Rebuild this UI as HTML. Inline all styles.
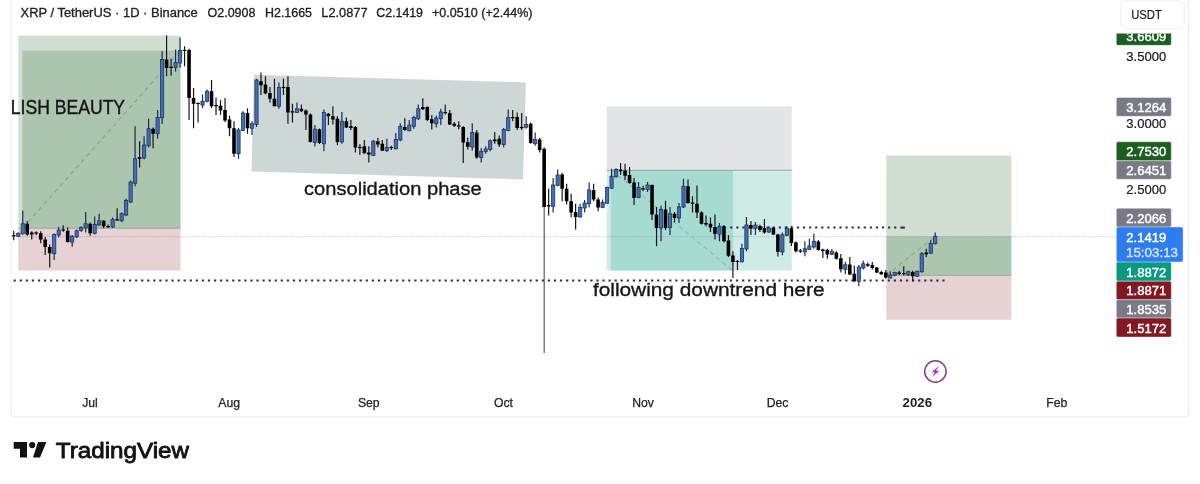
<!DOCTYPE html>
<html lang="en"><head><meta charset="utf-8"><title>XRP / TetherUS chart</title>
<style>html,body{margin:0;padding:0;background:#fff}body{width:1200px;height:484px;overflow:hidden}svg{display:block;filter:blur(.45px)}text{font-family:"Liberation Sans",sans-serif}</style>
</head><body>
<svg width="1200" height="484" viewBox="0 0 1200 484">
<rect width="1200" height="484" fill="#fff"/>
<g stroke="#eeeef0" stroke-width="1.1" fill="none">
<path d="M11.2 0V413.7Q11.2 416.7 14.2 416.7H1185.6Q1188.6 416.7 1188.6 413.7V0"/>
</g>
<line x1="11.5" y1="236.7" x2="1116" y2="236.7" stroke="#c3cde0" stroke-width="1" stroke-dasharray="1.2 1"/>
<rect x="18.3" y="35.6" width="162.2" height="192.6" fill="#1b5e20" fill-opacity=".2"/>
<rect x="22.4" y="50.6" width="158.1" height="177.6" fill="#1b5e20" fill-opacity=".2"/>
<rect x="18.3" y="228.2" width="162.2" height="42.3" fill="#801922" fill-opacity=".2"/>
<line x1="18.3" y1="228.2" x2="180.5" y2="228.2" stroke="#9aa89c" stroke-width="1"/>
<line x1="22.7" y1="228.2" x2="180.5" y2="50.6" stroke="#91a594" stroke-width="1.2" stroke-dasharray="4.5 3.5"/>
<polygon points="254,74.8 525.8,82.4 523,179.4 251.6,171.5" fill="#cdd7d5"/>
<rect x="606.8" y="106.3" width="185" height="63.7" fill="#787b86" fill-opacity=".2"/>
<rect x="606.8" y="170" width="185" height="100.6" fill="#089981" fill-opacity=".2"/>
<rect x="610.8" y="170" width="122.2" height="100.6" fill="#089981" fill-opacity=".2"/>
<line x1="606.8" y1="170.2" x2="791.8" y2="170.2" stroke="#93a8a5" stroke-width="1.1"/>
<line x1="611.5" y1="170" x2="732.5" y2="270.6" stroke="#96bab3" stroke-width="1.2" stroke-dasharray="4.5 3.5"/>
<rect x="886.3" y="155.5" width="125" height="119.8" fill="#1b5e20" fill-opacity=".2"/>
<rect x="886.3" y="236.4" width="125" height="38.9" fill="#1b5e20" fill-opacity=".2"/>
<rect x="886.3" y="275.3" width="125" height="44.5" fill="#801922" fill-opacity=".2"/>
<line x1="886.3" y1="275.3" x2="1011.3" y2="275.3" stroke="#9aa89c" stroke-width="1"/>
<line x1="886.3" y1="275.3" x2="935.2" y2="236.5" stroke="#91a594" stroke-width="1.2" stroke-dasharray="4.5 3.5"/>
<g stroke="#283150" stroke-width="2" stroke-dasharray="2.2 3.87">
<line x1="730.15" y1="227.6" x2="900" y2="227.6"/>
<line x1="13.65" y1="280.6" x2="945" y2="280.6"/>
</g>
<line x1="900.4" y1="227.6" x2="904.8" y2="227.6" stroke="#262f4b" stroke-width="2.1"/>
<g id="candles">
<path d="M13.75 230.8V240.3" stroke="#161616" stroke-width="1.2"/>
<rect x="11.95" y="235.2" width="3.6" height="1.2" fill="#000"/>
<path d="M18.25 232.5V237" stroke="#1d2b4a" stroke-width="1.2"/>
<rect x="16.64" y="233.25" width="3.2" height="3" fill="#4070b5" stroke="#1f3560" stroke-width=".8"/>
<path d="M22.74 210.75V234.5" stroke="#1d2b4a" stroke-width="1.2"/>
<rect x="21.14" y="223.75" width="3.2" height="10" fill="#4070b5" stroke="#1f3560" stroke-width=".8"/>
<path d="M27.23 221.25V235.75" stroke="#161616" stroke-width="1.2"/>
<rect x="25.43" y="223.75" width="3.6" height="10.75" fill="#000"/>
<path d="M31.73 231.25V239.5" stroke="#161616" stroke-width="1.2"/>
<rect x="29.93" y="232.5" width="3.6" height="2" fill="#000"/>
<path d="M36.23 231.25V235" stroke="#161616" stroke-width="1.2"/>
<rect x="34.42" y="232.4" width="3.6" height="1.2" fill="#000"/>
<path d="M40.72 231.25V243.25" stroke="#161616" stroke-width="1.2"/>
<rect x="38.92" y="233.25" width="3.6" height="6.25" fill="#000"/>
<path d="M45.22 237V255" stroke="#161616" stroke-width="1.2"/>
<rect x="43.41" y="239.5" width="3.6" height="7.5" fill="#000"/>
<path d="M49.71 244.5V267.5" stroke="#161616" stroke-width="1.2"/>
<rect x="47.91" y="247" width="3.6" height="6.25" fill="#000"/>
<path d="M54.2 233.25V260" stroke="#1d2b4a" stroke-width="1.2"/>
<rect x="52.6" y="234.5" width="3.2" height="19.25" fill="#4070b5" stroke="#1f3560" stroke-width=".8"/>
<path d="M58.7 227V237.5" stroke="#1d2b4a" stroke-width="1.2"/>
<rect x="57.1" y="230" width="3.2" height="5" fill="#4070b5" stroke="#1f3560" stroke-width=".8"/>
<path d="M63.2 225.3V231.7" stroke="#161616" stroke-width="1.2"/>
<rect x="61.39" y="229.4" width="3.6" height="1.2" fill="#000"/>
<path d="M67.69 227.5V242.5" stroke="#161616" stroke-width="1.2"/>
<rect x="65.89" y="230.75" width="3.6" height="11.25" fill="#000"/>
<path d="M72.19 235V246.75" stroke="#1d2b4a" stroke-width="1.2"/>
<rect x="70.59" y="236.25" width="3.2" height="5.75" fill="#4070b5" stroke="#1f3560" stroke-width=".8"/>
<path d="M76.68 229.5V238" stroke="#1d2b4a" stroke-width="1.2"/>
<rect x="75.08" y="230.75" width="3.2" height="6" fill="#4070b5" stroke="#1f3560" stroke-width=".8"/>
<path d="M81.17 226.25V231.75" stroke="#1d2b4a" stroke-width="1.2"/>
<rect x="79.58" y="227.5" width="3.2" height="3" fill="#4070b5" stroke="#1f3560" stroke-width=".8"/>
<path d="M85.67 212V232.5" stroke="#1d2b4a" stroke-width="1.2"/>
<rect x="84.07" y="223.75" width="3.2" height="4.25" fill="#4070b5" stroke="#1f3560" stroke-width=".8"/>
<path d="M90.17 222.5V235.75" stroke="#161616" stroke-width="1.2"/>
<rect x="88.37" y="223.75" width="3.6" height="9.5" fill="#000"/>
<path d="M94.66 216.5V234.5" stroke="#1d2b4a" stroke-width="1.2"/>
<rect x="93.06" y="224.5" width="3.2" height="8.75" fill="#4070b5" stroke="#1f3560" stroke-width=".8"/>
<path d="M99.16 213.75V225.75" stroke="#1d2b4a" stroke-width="1.2"/>
<rect x="97.56" y="220.75" width="3.2" height="4.25" fill="#4070b5" stroke="#1f3560" stroke-width=".8"/>
<path d="M103.65 220V228.25" stroke="#161616" stroke-width="1.2"/>
<rect x="101.85" y="220.75" width="3.6" height="5.5" fill="#000"/>
<path d="M108.14 224.5V228" stroke="#161616" stroke-width="1.2"/>
<rect x="106.34" y="226.03" width="3.6" height="1.2" fill="#000"/>
<path d="M112.64 217.5V228" stroke="#1d2b4a" stroke-width="1.2"/>
<rect x="111.04" y="219.5" width="3.2" height="7.5" fill="#4070b5" stroke="#1f3560" stroke-width=".8"/>
<path d="M117.14 208.25V220.75" stroke="#161616" stroke-width="1.2"/>
<rect x="115.34" y="219.28" width="3.6" height="1.2" fill="#000"/>
<path d="M121.63 212.5V222" stroke="#1d2b4a" stroke-width="1.2"/>
<rect x="120.03" y="213.75" width="3.2" height="7" fill="#4070b5" stroke="#1f3560" stroke-width=".8"/>
<path d="M126.12 198.75V216.25" stroke="#1d2b4a" stroke-width="1.2"/>
<rect x="124.53" y="200.5" width="3.2" height="14.5" fill="#4070b5" stroke="#1f3560" stroke-width=".8"/>
<path d="M130.62 180.5V203" stroke="#1d2b4a" stroke-width="1.2"/>
<rect x="129.02" y="182" width="3.2" height="20" fill="#4070b5" stroke="#1f3560" stroke-width=".8"/>
<path d="M135.12 126.25V186.25" stroke="#1d2b4a" stroke-width="1.2"/>
<rect x="133.52" y="158.75" width="3.2" height="24.5" fill="#4070b5" stroke="#1f3560" stroke-width=".8"/>
<path d="M139.61 141.25V167.5" stroke="#161616" stroke-width="1.2"/>
<rect x="137.81" y="157" width="3.6" height="1.75" fill="#000"/>
<path d="M144.1 136.25V159.25" stroke="#1d2b4a" stroke-width="1.2"/>
<rect x="142.5" y="145" width="3.2" height="13" fill="#4070b5" stroke="#1f3560" stroke-width=".8"/>
<path d="M148.6 118.75V147.5" stroke="#1d2b4a" stroke-width="1.2"/>
<rect x="147" y="128.75" width="3.2" height="17" fill="#4070b5" stroke="#1f3560" stroke-width=".8"/>
<path d="M153.09 127.5V148.25" stroke="#161616" stroke-width="1.2"/>
<rect x="151.3" y="128.75" width="3.6" height="5" fill="#000"/>
<path d="M157.59 110V138.75" stroke="#1d2b4a" stroke-width="1.2"/>
<rect x="155.99" y="117.5" width="3.2" height="16.25" fill="#4070b5" stroke="#1f3560" stroke-width=".8"/>
<path d="M162.09 51.25V124" stroke="#1d2b4a" stroke-width="1.2"/>
<rect x="160.49" y="59.5" width="3.2" height="58.25" fill="#4070b5" stroke="#1f3560" stroke-width=".8"/>
<path d="M166.58 35.5V76.25" stroke="#161616" stroke-width="1.2"/>
<rect x="164.78" y="59.5" width="3.6" height="8.5" fill="#000"/>
<path d="M171.08 58.75V75.75" stroke="#161616" stroke-width="1.2"/>
<rect x="169.28" y="66.75" width="3.6" height="1.25" fill="#000"/>
<path d="M175.57 49.5V71.5" stroke="#1d2b4a" stroke-width="1.2"/>
<rect x="173.97" y="62.5" width="3.2" height="5" fill="#4070b5" stroke="#1f3560" stroke-width=".8"/>
<path d="M180.06 37.5V67.5" stroke="#1d2b4a" stroke-width="1.2"/>
<rect x="178.47" y="50.5" width="3.2" height="12.5" fill="#4070b5" stroke="#1f3560" stroke-width=".8"/>
<path d="M184.56 46.25V66.25" stroke="#161616" stroke-width="1.2"/>
<rect x="182.76" y="49.8" width="3.6" height="1.2" fill="#000"/>
<path d="M189.06 48.75V120" stroke="#161616" stroke-width="1.2"/>
<rect x="187.26" y="50" width="3.6" height="48" fill="#000"/>
<path d="M193.55 88V128.25" stroke="#161616" stroke-width="1.2"/>
<rect x="191.75" y="98" width="3.6" height="5.75" fill="#000"/>
<path d="M198.05 102.5V122.5" stroke="#161616" stroke-width="1.2"/>
<rect x="196.25" y="102.9" width="3.6" height="1.2" fill="#000"/>
<path d="M202.54 94.5V108" stroke="#1d2b4a" stroke-width="1.2"/>
<rect x="200.94" y="101.25" width="3.2" height="3.75" fill="#4070b5" stroke="#1f3560" stroke-width=".8"/>
<path d="M207.03 89.5V102.5" stroke="#1d2b4a" stroke-width="1.2"/>
<rect x="205.44" y="91.25" width="3.2" height="10" fill="#4070b5" stroke="#1f3560" stroke-width=".8"/>
<path d="M211.53 80V108" stroke="#161616" stroke-width="1.2"/>
<rect x="209.73" y="91.25" width="3.6" height="15" fill="#000"/>
<path d="M216.03 97.5V115" stroke="#161616" stroke-width="1.2"/>
<rect x="214.23" y="105" width="3.6" height="1.25" fill="#000"/>
<path d="M220.52 100V115" stroke="#161616" stroke-width="1.2"/>
<rect x="218.72" y="105.75" width="3.6" height="4.75" fill="#000"/>
<path d="M225.02 98V122" stroke="#161616" stroke-width="1.2"/>
<rect x="223.22" y="110" width="3.6" height="10.5" fill="#000"/>
<path d="M229.51 115.75V136.25" stroke="#161616" stroke-width="1.2"/>
<rect x="227.71" y="119.5" width="3.6" height="8.75" fill="#000"/>
<path d="M234 121.25V157" stroke="#161616" stroke-width="1.2"/>
<rect x="232.21" y="128.25" width="3.6" height="25.5" fill="#000"/>
<path d="M238.5 128V158.75" stroke="#1d2b4a" stroke-width="1.2"/>
<rect x="236.9" y="130" width="3.2" height="23.75" fill="#4070b5" stroke="#1f3560" stroke-width=".8"/>
<path d="M243 111.25V131.25" stroke="#1d2b4a" stroke-width="1.2"/>
<rect x="241.4" y="113" width="3.2" height="17.5" fill="#4070b5" stroke="#1f3560" stroke-width=".8"/>
<path d="M247.49 108.25V133.75" stroke="#161616" stroke-width="1.2"/>
<rect x="245.69" y="113" width="3.6" height="15.25" fill="#000"/>
<path d="M251.99 121.25V135" stroke="#1d2b4a" stroke-width="1.2"/>
<rect x="250.39" y="123.75" width="3.2" height="4.5" fill="#4070b5" stroke="#1f3560" stroke-width=".8"/>
<path d="M256.48 78.75V127" stroke="#1d2b4a" stroke-width="1.2"/>
<rect x="254.88" y="80" width="3.2" height="44.5" fill="#4070b5" stroke="#1f3560" stroke-width=".8"/>
<path d="M260.98 72.5V95" stroke="#161616" stroke-width="1.2"/>
<rect x="259.18" y="81.25" width="3.6" height="4.05" fill="#000"/>
<path d="M265.47 76.25V94.5" stroke="#161616" stroke-width="1.2"/>
<rect x="263.67" y="84.5" width="3.6" height="8.75" fill="#000"/>
<path d="M269.97 87V102.5" stroke="#161616" stroke-width="1.2"/>
<rect x="268.17" y="93" width="3.6" height="5.75" fill="#000"/>
<path d="M274.46 78.75V106.25" stroke="#161616" stroke-width="1.2"/>
<rect x="272.66" y="98.75" width="3.6" height="7.5" fill="#000"/>
<path d="M278.95 82.5V108.75" stroke="#1d2b4a" stroke-width="1.2"/>
<rect x="277.35" y="87.5" width="3.2" height="18.75" fill="#4070b5" stroke="#1f3560" stroke-width=".8"/>
<path d="M283.45 78.75V95" stroke="#161616" stroke-width="1.2"/>
<rect x="281.65" y="86.9" width="3.6" height="1.2" fill="#000"/>
<path d="M287.94 76.25V123.75" stroke="#161616" stroke-width="1.2"/>
<rect x="286.14" y="87" width="3.6" height="25.5" fill="#000"/>
<path d="M292.44 103.75V122.5" stroke="#161616" stroke-width="1.2"/>
<rect x="290.64" y="111.25" width="3.6" height="1.25" fill="#000"/>
<path d="M296.94 102.5V113" stroke="#1d2b4a" stroke-width="1.2"/>
<rect x="295.33" y="108.75" width="3.2" height="3.75" fill="#4070b5" stroke="#1f3560" stroke-width=".8"/>
<path d="M301.43 104.5V112" stroke="#161616" stroke-width="1.2"/>
<rect x="299.63" y="108.75" width="3.6" height="2.5" fill="#000"/>
<path d="M305.93 109.5V130" stroke="#161616" stroke-width="1.2"/>
<rect x="304.12" y="110.5" width="3.6" height="4" fill="#000"/>
<path d="M310.42 113.5V142.5" stroke="#161616" stroke-width="1.2"/>
<rect x="308.62" y="114.5" width="3.6" height="27.5" fill="#000"/>
<path d="M314.92 125V146.5" stroke="#1d2b4a" stroke-width="1.2"/>
<rect x="313.31" y="129.2" width="3.2" height="13.3" fill="#4070b5" stroke="#1f3560" stroke-width=".8"/>
<path d="M319.41 128.5V144" stroke="#161616" stroke-width="1.2"/>
<rect x="317.61" y="129.25" width="3.6" height="13.75" fill="#000"/>
<path d="M323.91 109.5V151.25" stroke="#1d2b4a" stroke-width="1.2"/>
<rect x="322.31" y="112.5" width="3.2" height="31.25" fill="#4070b5" stroke="#1f3560" stroke-width=".8"/>
<path d="M328.4 113V125" stroke="#161616" stroke-width="1.2"/>
<rect x="326.6" y="113.75" width="3.6" height="2.5" fill="#000"/>
<path d="M332.89 106.25V124.5" stroke="#161616" stroke-width="1.2"/>
<rect x="331.09" y="116.25" width="3.6" height="3.25" fill="#000"/>
<path d="M337.39 116.25V145" stroke="#161616" stroke-width="1.2"/>
<rect x="335.59" y="118.75" width="3.6" height="23.25" fill="#000"/>
<path d="M341.88 112V143.75" stroke="#1d2b4a" stroke-width="1.2"/>
<rect x="340.28" y="121.25" width="3.2" height="20.75" fill="#4070b5" stroke="#1f3560" stroke-width=".8"/>
<path d="M346.38 117.5V128" stroke="#161616" stroke-width="1.2"/>
<rect x="344.58" y="121.25" width="3.6" height="6.25" fill="#000"/>
<path d="M350.88 120V130" stroke="#161616" stroke-width="1.2"/>
<rect x="349.07" y="126.25" width="3.6" height="1.75" fill="#000"/>
<path d="M355.37 126V152.5" stroke="#161616" stroke-width="1.2"/>
<rect x="353.57" y="127" width="3.6" height="20.5" fill="#000"/>
<path d="M359.87 144V155" stroke="#161616" stroke-width="1.2"/>
<rect x="358.06" y="146.9" width="3.6" height="1.2" fill="#000"/>
<path d="M364.36 140V153.75" stroke="#161616" stroke-width="1.2"/>
<rect x="362.56" y="146.25" width="3.6" height="7" fill="#000"/>
<path d="M368.86 146.25V162.5" stroke="#161616" stroke-width="1.2"/>
<rect x="367.06" y="152.5" width="3.6" height="2" fill="#000"/>
<path d="M373.35 140V156" stroke="#1d2b4a" stroke-width="1.2"/>
<rect x="371.75" y="141.25" width="3.2" height="14.25" fill="#4070b5" stroke="#1f3560" stroke-width=".8"/>
<path d="M377.85 138V147.5" stroke="#161616" stroke-width="1.2"/>
<rect x="376.05" y="141.25" width="3.6" height="3.25" fill="#000"/>
<path d="M382.34 140V151" stroke="#161616" stroke-width="1.2"/>
<rect x="380.54" y="143.75" width="3.6" height="7" fill="#000"/>
<path d="M386.84 138.75V152" stroke="#1d2b4a" stroke-width="1.2"/>
<rect x="385.24" y="147.5" width="3.2" height="3" fill="#4070b5" stroke="#1f3560" stroke-width=".8"/>
<path d="M391.33 145.75V150" stroke="#161616" stroke-width="1.2"/>
<rect x="389.53" y="146.9" width="3.6" height="1.2" fill="#000"/>
<path d="M395.82 133V149.5" stroke="#1d2b4a" stroke-width="1.2"/>
<rect x="394.22" y="139.5" width="3.2" height="9.25" fill="#4070b5" stroke="#1f3560" stroke-width=".8"/>
<path d="M400.32 123.25V141.25" stroke="#1d2b4a" stroke-width="1.2"/>
<rect x="398.72" y="126.25" width="3.2" height="13.75" fill="#4070b5" stroke="#1f3560" stroke-width=".8"/>
<path d="M404.81 118.25V130.75" stroke="#161616" stroke-width="1.2"/>
<rect x="403.01" y="127" width="3.6" height="3" fill="#000"/>
<path d="M409.31 120V131.25" stroke="#1d2b4a" stroke-width="1.2"/>
<rect x="407.71" y="125" width="3.2" height="5.75" fill="#4070b5" stroke="#1f3560" stroke-width=".8"/>
<path d="M413.81 115.75V128.75" stroke="#1d2b4a" stroke-width="1.2"/>
<rect x="412.2" y="117.5" width="3.2" height="8.75" fill="#4070b5" stroke="#1f3560" stroke-width=".8"/>
<path d="M418.3 104.5V120" stroke="#1d2b4a" stroke-width="1.2"/>
<rect x="416.7" y="108.75" width="3.2" height="10" fill="#4070b5" stroke="#1f3560" stroke-width=".8"/>
<path d="M422.8 98.25V110" stroke="#161616" stroke-width="1.2"/>
<rect x="421" y="107" width="3.6" height="2.25" fill="#000"/>
<path d="M427.29 106.25V121.25" stroke="#161616" stroke-width="1.2"/>
<rect x="425.49" y="107" width="3.6" height="13" fill="#000"/>
<path d="M431.79 115V129.5" stroke="#161616" stroke-width="1.2"/>
<rect x="429.99" y="119.25" width="3.6" height="4" fill="#000"/>
<path d="M436.28 115.75V127.5" stroke="#1d2b4a" stroke-width="1.2"/>
<rect x="434.68" y="118" width="3.2" height="5.75" fill="#4070b5" stroke="#1f3560" stroke-width=".8"/>
<path d="M440.78 108.75V125" stroke="#1d2b4a" stroke-width="1.2"/>
<rect x="439.18" y="112" width="3.2" height="6.75" fill="#4070b5" stroke="#1f3560" stroke-width=".8"/>
<path d="M445.27 104.5V114.5" stroke="#161616" stroke-width="1.2"/>
<rect x="443.47" y="112" width="3.6" height="1.25" fill="#000"/>
<path d="M449.76 110V125" stroke="#161616" stroke-width="1.2"/>
<rect x="447.96" y="113" width="3.6" height="11.5" fill="#000"/>
<path d="M454.26 122V127" stroke="#161616" stroke-width="1.2"/>
<rect x="452.46" y="123.75" width="3.6" height="2" fill="#000"/>
<path d="M458.75 121.25V129.25" stroke="#161616" stroke-width="1.2"/>
<rect x="456.95" y="125.4" width="3.6" height="1.2" fill="#000"/>
<path d="M463.25 126.25V163" stroke="#161616" stroke-width="1.2"/>
<rect x="461.45" y="127" width="3.6" height="15.5" fill="#000"/>
<path d="M467.75 137.5V149.5" stroke="#161616" stroke-width="1.2"/>
<rect x="465.94" y="142" width="3.6" height="4.75" fill="#000"/>
<path d="M472.24 123.25V150.5" stroke="#1d2b4a" stroke-width="1.2"/>
<rect x="470.64" y="132.5" width="3.2" height="14.5" fill="#4070b5" stroke="#1f3560" stroke-width=".8"/>
<path d="M476.74 130V158.75" stroke="#161616" stroke-width="1.2"/>
<rect x="474.94" y="132.5" width="3.6" height="25" fill="#000"/>
<path d="M481.23 148V162.5" stroke="#1d2b4a" stroke-width="1.2"/>
<rect x="479.63" y="151.25" width="3.2" height="6.25" fill="#4070b5" stroke="#1f3560" stroke-width=".8"/>
<path d="M485.73 146.25V153.75" stroke="#1d2b4a" stroke-width="1.2"/>
<rect x="484.12" y="149" width="3.2" height="2.5" fill="#4070b5" stroke="#1f3560" stroke-width=".8"/>
<path d="M490.22 139.5V151.25" stroke="#1d2b4a" stroke-width="1.2"/>
<rect x="488.62" y="140.75" width="3.2" height="8.75" fill="#4070b5" stroke="#1f3560" stroke-width=".8"/>
<path d="M494.72 132V143.75" stroke="#161616" stroke-width="1.2"/>
<rect x="492.92" y="139.5" width="3.6" height="1.75" fill="#000"/>
<path d="M499.21 135.5V147" stroke="#161616" stroke-width="1.2"/>
<rect x="497.41" y="138.75" width="3.6" height="5.75" fill="#000"/>
<path d="M503.7 128V147.5" stroke="#1d2b4a" stroke-width="1.2"/>
<rect x="502.1" y="129.5" width="3.2" height="15" fill="#4070b5" stroke="#1f3560" stroke-width=".8"/>
<path d="M508.2 109.5V131.25" stroke="#1d2b4a" stroke-width="1.2"/>
<rect x="506.6" y="117.5" width="3.2" height="13" fill="#4070b5" stroke="#1f3560" stroke-width=".8"/>
<path d="M512.69 110V121.25" stroke="#161616" stroke-width="1.2"/>
<rect x="510.89" y="117" width="3.6" height="1.25" fill="#000"/>
<path d="M517.19 112.5V130" stroke="#161616" stroke-width="1.2"/>
<rect x="515.39" y="117" width="3.6" height="11" fill="#000"/>
<path d="M521.68 113V130" stroke="#161616" stroke-width="1.2"/>
<rect x="519.88" y="126.9" width="3.6" height="1.2" fill="#000"/>
<path d="M526.18 116.25V128.75" stroke="#1d2b4a" stroke-width="1.2"/>
<rect x="524.58" y="124.5" width="3.2" height="2.7" fill="#4070b5" stroke="#1f3560" stroke-width=".8"/>
<path d="M530.68 122.5V143.75" stroke="#161616" stroke-width="1.2"/>
<rect x="528.88" y="123.75" width="3.6" height="19.25" fill="#000"/>
<path d="M535.17 132.5V145.75" stroke="#1d2b4a" stroke-width="1.2"/>
<rect x="533.57" y="139.5" width="3.2" height="4.25" fill="#4070b5" stroke="#1f3560" stroke-width=".8"/>
<path d="M539.66 138V152.5" stroke="#161616" stroke-width="1.2"/>
<rect x="537.86" y="139.5" width="3.6" height="10.5" fill="#000"/>
<path d="M544.16 147V353" stroke="#3c3c3c" stroke-width="1"/>
<rect x="542.36" y="148.75" width="3.6" height="58.25" fill="#000"/>
<path d="M548.65 188.75V215.5" stroke="#161616" stroke-width="1.2"/>
<rect x="546.85" y="205" width="3.6" height="1.5" fill="#000"/>
<path d="M553.15 178V212.5" stroke="#1d2b4a" stroke-width="1.2"/>
<rect x="551.55" y="185" width="3.2" height="21.25" fill="#4070b5" stroke="#1f3560" stroke-width=".8"/>
<path d="M557.64 169.5V186.25" stroke="#1d2b4a" stroke-width="1.2"/>
<rect x="556.04" y="175" width="3.2" height="10.5" fill="#4070b5" stroke="#1f3560" stroke-width=".8"/>
<path d="M562.14 173V201.25" stroke="#161616" stroke-width="1.2"/>
<rect x="560.34" y="174.5" width="3.6" height="14.25" fill="#000"/>
<path d="M566.63 183.75V204.5" stroke="#161616" stroke-width="1.2"/>
<rect x="564.83" y="188.75" width="3.6" height="12.5" fill="#000"/>
<path d="M571.13 193.75V217.5" stroke="#161616" stroke-width="1.2"/>
<rect x="569.33" y="201.25" width="3.6" height="11.25" fill="#000"/>
<path d="M575.62 203.75V229.5" stroke="#161616" stroke-width="1.2"/>
<rect x="573.82" y="212" width="3.6" height="5" fill="#000"/>
<path d="M580.12 203.75V217.5" stroke="#1d2b4a" stroke-width="1.2"/>
<rect x="578.52" y="207.5" width="3.2" height="9.5" fill="#4070b5" stroke="#1f3560" stroke-width=".8"/>
<path d="M584.62 200V212.5" stroke="#1d2b4a" stroke-width="1.2"/>
<rect x="583.01" y="203" width="3.2" height="5" fill="#4070b5" stroke="#1f3560" stroke-width=".8"/>
<path d="M589.11 182.5V207.5" stroke="#1d2b4a" stroke-width="1.2"/>
<rect x="587.51" y="190" width="3.2" height="13.75" fill="#4070b5" stroke="#1f3560" stroke-width=".8"/>
<path d="M593.61 183.75V201.25" stroke="#161616" stroke-width="1.2"/>
<rect x="591.8" y="190" width="3.6" height="9.5" fill="#000"/>
<path d="M598.1 197.5V211.25" stroke="#161616" stroke-width="1.2"/>
<rect x="596.3" y="199.5" width="3.6" height="8" fill="#000"/>
<path d="M602.6 199.5V208.25" stroke="#1d2b4a" stroke-width="1.2"/>
<rect x="601" y="202.5" width="3.2" height="5" fill="#4070b5" stroke="#1f3560" stroke-width=".8"/>
<path d="M607.09 186.75V203.75" stroke="#1d2b4a" stroke-width="1.2"/>
<rect x="605.49" y="187.5" width="3.2" height="15.75" fill="#4070b5" stroke="#1f3560" stroke-width=".8"/>
<path d="M611.59 168.75V188.75" stroke="#1d2b4a" stroke-width="1.2"/>
<rect x="609.99" y="176.25" width="3.2" height="12" fill="#4070b5" stroke="#1f3560" stroke-width=".8"/>
<path d="M616.08 168.25V177.5" stroke="#1d2b4a" stroke-width="1.2"/>
<rect x="614.48" y="169.5" width="3.2" height="7.25" fill="#4070b5" stroke="#1f3560" stroke-width=".8"/>
<path d="M620.58 163V175" stroke="#161616" stroke-width="1.2"/>
<rect x="618.77" y="169.5" width="3.6" height="1.75" fill="#000"/>
<path d="M625.07 163.75V180" stroke="#161616" stroke-width="1.2"/>
<rect x="623.27" y="170.5" width="3.6" height="5.25" fill="#000"/>
<path d="M629.57 167V183.75" stroke="#161616" stroke-width="1.2"/>
<rect x="627.76" y="175" width="3.6" height="8" fill="#000"/>
<path d="M634.06 178V205" stroke="#161616" stroke-width="1.2"/>
<rect x="632.26" y="182.5" width="3.6" height="15.5" fill="#000"/>
<path d="M638.56 182V198.25" stroke="#1d2b4a" stroke-width="1.2"/>
<rect x="636.96" y="187.5" width="3.2" height="10" fill="#4070b5" stroke="#1f3560" stroke-width=".8"/>
<path d="M643.05 185.75V191.25" stroke="#161616" stroke-width="1.2"/>
<rect x="641.25" y="188.25" width="3.6" height="1.2" fill="#000"/>
<path d="M647.54 182V192" stroke="#1d2b4a" stroke-width="1.2"/>
<rect x="645.94" y="185" width="3.2" height="4.5" fill="#4070b5" stroke="#1f3560" stroke-width=".8"/>
<path d="M652.04 184.5V220" stroke="#161616" stroke-width="1.2"/>
<rect x="650.24" y="185" width="3.6" height="29.5" fill="#000"/>
<path d="M656.53 207V246.25" stroke="#161616" stroke-width="1.2"/>
<rect x="654.73" y="214.5" width="3.6" height="13.5" fill="#000"/>
<path d="M661.03 205.5V241.25" stroke="#1d2b4a" stroke-width="1.2"/>
<rect x="659.43" y="209.5" width="3.2" height="18.5" fill="#4070b5" stroke="#1f3560" stroke-width=".8"/>
<path d="M665.52 200.75V230" stroke="#161616" stroke-width="1.2"/>
<rect x="663.72" y="209.5" width="3.6" height="18.5" fill="#000"/>
<path d="M670.02 207V235" stroke="#1d2b4a" stroke-width="1.2"/>
<rect x="668.42" y="213.75" width="3.2" height="13.75" fill="#4070b5" stroke="#1f3560" stroke-width=".8"/>
<path d="M674.51 212V222.5" stroke="#161616" stroke-width="1.2"/>
<rect x="672.71" y="213.75" width="3.6" height="4.25" fill="#000"/>
<path d="M679.01 203V223" stroke="#1d2b4a" stroke-width="1.2"/>
<rect x="677.41" y="207" width="3.2" height="11" fill="#4070b5" stroke="#1f3560" stroke-width=".8"/>
<path d="M683.5 178.75V208" stroke="#1d2b4a" stroke-width="1.2"/>
<rect x="681.9" y="186.25" width="3.2" height="20.75" fill="#4070b5" stroke="#1f3560" stroke-width=".8"/>
<path d="M688 179.5V203.75" stroke="#161616" stroke-width="1.2"/>
<rect x="686.2" y="186.25" width="3.6" height="16.75" fill="#000"/>
<path d="M692.5 196.25V212.5" stroke="#161616" stroke-width="1.2"/>
<rect x="690.69" y="202.5" width="3.6" height="1.25" fill="#000"/>
<path d="M696.99 185.5V218" stroke="#161616" stroke-width="1.2"/>
<rect x="695.19" y="203.75" width="3.6" height="8.75" fill="#000"/>
<path d="M701.49 211.25V224.5" stroke="#161616" stroke-width="1.2"/>
<rect x="699.68" y="212.5" width="3.6" height="11.25" fill="#000"/>
<path d="M705.98 215.5V226.25" stroke="#161616" stroke-width="1.2"/>
<rect x="704.18" y="223" width="3.6" height="1.5" fill="#000"/>
<path d="M710.48 217.5V232" stroke="#161616" stroke-width="1.2"/>
<rect x="708.67" y="223.75" width="3.6" height="3.75" fill="#000"/>
<path d="M714.97 214.5V239.5" stroke="#161616" stroke-width="1.2"/>
<rect x="713.17" y="227" width="3.6" height="6.75" fill="#000"/>
<path d="M719.47 223V241.25" stroke="#1d2b4a" stroke-width="1.2"/>
<rect x="717.87" y="226.25" width="3.2" height="8" fill="#4070b5" stroke="#1f3560" stroke-width=".8"/>
<path d="M723.96 225V242.5" stroke="#161616" stroke-width="1.2"/>
<rect x="722.16" y="226.25" width="3.6" height="15" fill="#000"/>
<path d="M728.46 235V257" stroke="#161616" stroke-width="1.2"/>
<rect x="726.65" y="240.5" width="3.6" height="15.25" fill="#000"/>
<path d="M732.95 251.25V278" stroke="#161616" stroke-width="1.2"/>
<rect x="731.15" y="255.5" width="3.6" height="6.5" fill="#000"/>
<path d="M737.45 260V270" stroke="#161616" stroke-width="1.2"/>
<rect x="735.64" y="260.9" width="3.6" height="1.2" fill="#000"/>
<path d="M741.94 243.75V262.5" stroke="#1d2b4a" stroke-width="1.2"/>
<rect x="740.34" y="248.5" width="3.2" height="13.25" fill="#4070b5" stroke="#1f3560" stroke-width=".8"/>
<path d="M746.44 217V251.25" stroke="#1d2b4a" stroke-width="1.2"/>
<rect x="744.84" y="225" width="3.2" height="24" fill="#4070b5" stroke="#1f3560" stroke-width=".8"/>
<path d="M750.93 221V235" stroke="#161616" stroke-width="1.2"/>
<rect x="749.13" y="225" width="3.6" height="3.5" fill="#000"/>
<path d="M755.43 222V235" stroke="#1d2b4a" stroke-width="1.2"/>
<rect x="753.83" y="225" width="3.2" height="3.75" fill="#4070b5" stroke="#1f3560" stroke-width=".8"/>
<path d="M759.92 224.5V232" stroke="#161616" stroke-width="1.2"/>
<rect x="758.12" y="226" width="3.6" height="4" fill="#000"/>
<path d="M764.41 219V233.75" stroke="#161616" stroke-width="1.2"/>
<rect x="762.61" y="228" width="3.6" height="4.5" fill="#000"/>
<path d="M768.91 226.25V233" stroke="#1d2b4a" stroke-width="1.2"/>
<rect x="767.31" y="228" width="3.2" height="4" fill="#4070b5" stroke="#1f3560" stroke-width=".8"/>
<path d="M773.4 227V235" stroke="#161616" stroke-width="1.2"/>
<rect x="771.6" y="227.75" width="3.6" height="6.75" fill="#000"/>
<path d="M777.9 233.75V256.5" stroke="#161616" stroke-width="1.2"/>
<rect x="776.1" y="234.5" width="3.6" height="17.5" fill="#000"/>
<path d="M782.39 232.5V255.25" stroke="#1d2b4a" stroke-width="1.2"/>
<rect x="780.79" y="234.75" width="3.2" height="17.25" fill="#4070b5" stroke="#1f3560" stroke-width=".8"/>
<path d="M786.89 226.25V236.25" stroke="#1d2b4a" stroke-width="1.2"/>
<rect x="785.29" y="228.5" width="3.2" height="7" fill="#4070b5" stroke="#1f3560" stroke-width=".8"/>
<path d="M791.38 226.5V246" stroke="#161616" stroke-width="1.2"/>
<rect x="789.58" y="228.5" width="3.6" height="14.5" fill="#000"/>
<path d="M795.88 241.5V252.5" stroke="#161616" stroke-width="1.2"/>
<rect x="794.08" y="242.5" width="3.6" height="8.75" fill="#000"/>
<path d="M800.38 249V253" stroke="#161616" stroke-width="1.2"/>
<rect x="798.57" y="250.4" width="3.6" height="1.2" fill="#000"/>
<path d="M804.87 241.25V256.25" stroke="#1d2b4a" stroke-width="1.2"/>
<rect x="803.27" y="248.75" width="3.2" height="3" fill="#4070b5" stroke="#1f3560" stroke-width=".8"/>
<path d="M809.37 238.75V250" stroke="#1d2b4a" stroke-width="1.2"/>
<rect x="807.76" y="246" width="3.2" height="3.5" fill="#4070b5" stroke="#1f3560" stroke-width=".8"/>
<path d="M813.86 233.5V248.75" stroke="#1d2b4a" stroke-width="1.2"/>
<rect x="812.26" y="241.25" width="3.2" height="5.75" fill="#4070b5" stroke="#1f3560" stroke-width=".8"/>
<path d="M818.36 240V250.5" stroke="#161616" stroke-width="1.2"/>
<rect x="816.55" y="241.5" width="3.6" height="8.5" fill="#000"/>
<path d="M822.85 248.75V258" stroke="#161616" stroke-width="1.2"/>
<rect x="821.05" y="249.5" width="3.6" height="1.5" fill="#000"/>
<path d="M827.35 248.75V258.75" stroke="#161616" stroke-width="1.2"/>
<rect x="825.54" y="250" width="3.6" height="4.5" fill="#000"/>
<path d="M831.84 249V255" stroke="#1d2b4a" stroke-width="1.2"/>
<rect x="830.24" y="251.5" width="3.2" height="2.7" fill="#4070b5" stroke="#1f3560" stroke-width=".8"/>
<path d="M836.34 251.25V259.5" stroke="#161616" stroke-width="1.2"/>
<rect x="834.53" y="252.5" width="3.6" height="6.25" fill="#000"/>
<path d="M840.83 254V272.5" stroke="#161616" stroke-width="1.2"/>
<rect x="839.03" y="258.3" width="3.6" height="11" fill="#000"/>
<path d="M845.33 261.7V274.3" stroke="#1d2b4a" stroke-width="1.2"/>
<rect x="843.73" y="264.7" width="3.2" height="4.8" fill="#4070b5" stroke="#1f3560" stroke-width=".8"/>
<path d="M849.82 257V275" stroke="#161616" stroke-width="1.2"/>
<rect x="848.02" y="264.5" width="3.6" height="10" fill="#000"/>
<path d="M854.32 265.5V282" stroke="#161616" stroke-width="1.2"/>
<rect x="852.51" y="273.75" width="3.6" height="7.5" fill="#000"/>
<path d="M858.81 265V286.25" stroke="#1d2b4a" stroke-width="1.2"/>
<rect x="857.21" y="267" width="3.2" height="14.25" fill="#4070b5" stroke="#1f3560" stroke-width=".8"/>
<path d="M863.31 260.75V269.5" stroke="#1d2b4a" stroke-width="1.2"/>
<rect x="861.71" y="263.75" width="3.2" height="4.25" fill="#4070b5" stroke="#1f3560" stroke-width=".8"/>
<path d="M867.8 262.5V267" stroke="#161616" stroke-width="1.2"/>
<rect x="866" y="264.25" width="3.6" height="1.5" fill="#000"/>
<path d="M872.3 262V269.5" stroke="#161616" stroke-width="1.2"/>
<rect x="870.5" y="265" width="3.6" height="3" fill="#000"/>
<path d="M876.79 267V273.25" stroke="#161616" stroke-width="1.2"/>
<rect x="874.99" y="267.5" width="3.6" height="5" fill="#000"/>
<path d="M881.28 270.75V275" stroke="#161616" stroke-width="1.2"/>
<rect x="879.48" y="272" width="3.6" height="2.25" fill="#000"/>
<path d="M885.78 270V278.75" stroke="#161616" stroke-width="1.2"/>
<rect x="883.98" y="272.5" width="3.6" height="5" fill="#000"/>
<path d="M890.27 271.3V278.4" stroke="#1d2b4a" stroke-width="1.2"/>
<rect x="888.67" y="275" width="3.2" height="3" fill="#4070b5" stroke="#1f3560" stroke-width=".8"/>
<path d="M894.77 271.75V276.25" stroke="#1d2b4a" stroke-width="1.2"/>
<rect x="893.17" y="272.5" width="3.2" height="3" fill="#4070b5" stroke="#1f3560" stroke-width=".8"/>
<path d="M899.26 270.75V275" stroke="#161616" stroke-width="1.2"/>
<rect x="897.46" y="272.5" width="3.6" height="1.5" fill="#000"/>
<path d="M903.76 266.25V275.5" stroke="#161616" stroke-width="1.2"/>
<rect x="901.96" y="273" width="3.6" height="1.25" fill="#000"/>
<path d="M908.25 270.75V275.75" stroke="#1d2b4a" stroke-width="1.2"/>
<rect x="906.65" y="271.7" width="3.2" height="3.3" fill="#4070b5" stroke="#1f3560" stroke-width=".8"/>
<path d="M912.75 270.75V281.25" stroke="#161616" stroke-width="1.2"/>
<rect x="910.95" y="272" width="3.6" height="4.25" fill="#000"/>
<path d="M917.25 270.75V277" stroke="#1d2b4a" stroke-width="1.2"/>
<rect x="915.64" y="271.25" width="3.2" height="5" fill="#4070b5" stroke="#1f3560" stroke-width=".8"/>
<path d="M921.74 252V272.5" stroke="#1d2b4a" stroke-width="1.2"/>
<rect x="920.14" y="253.75" width="3.2" height="18" fill="#4070b5" stroke="#1f3560" stroke-width=".8"/>
<path d="M926.24 248.75V257" stroke="#161616" stroke-width="1.2"/>
<rect x="924.43" y="252.5" width="3.6" height="1.75" fill="#000"/>
<path d="M930.73 240V253.75" stroke="#1d2b4a" stroke-width="1.2"/>
<rect x="929.13" y="243.5" width="3.2" height="9.75" fill="#4070b5" stroke="#1f3560" stroke-width=".8"/>
<path d="M935.23 232.5V244.5" stroke="#1d2b4a" stroke-width="1.2"/>
<rect x="933.62" y="236.25" width="3.2" height="7.5" fill="#4070b5" stroke="#1f3560" stroke-width=".8"/>
</g>
<g fill="#161616" stroke="#161616" stroke-width=".35" font-size="19.2">
<text x="10.8" y="114.2" font-size="19.3" stroke-width=".4" textLength="114.3" lengthAdjust="spacingAndGlyphs">LISH BEAUTY</text>
<text x="304" y="195.4" textLength="177.8" lengthAdjust="spacingAndGlyphs">consolidation phase</text>
<text x="592.9" y="296.4" textLength="231.6" lengthAdjust="spacingAndGlyphs">following downtrend here</text>
</g>
<g fill="#222" stroke="#222" stroke-width=".3" font-size="11.9">
<text x="20.5" y="17.4" textLength="177.3" lengthAdjust="spacingAndGlyphs">XRP / TetherUS · 1D · Binance</text>
<text x="207.5" y="17.4" textLength="48" lengthAdjust="spacingAndGlyphs">O2.0908</text>
<text x="265" y="17.4" textLength="47" lengthAdjust="spacingAndGlyphs">H2.1665</text>
<text x="321.3" y="17.4" textLength="46.2" lengthAdjust="spacingAndGlyphs">L2.0877</text>
<text x="376.3" y="17.4" textLength="46.7" lengthAdjust="spacingAndGlyphs">C2.1419</text>
<text x="432" y="17.4" textLength="100.5" lengthAdjust="spacingAndGlyphs">+0.0510 (+2.44%)</text>
</g>
<g fill="#222" stroke="#222" stroke-width=".25" font-size="12.2" text-anchor="middle">
<text x="90" y="406.5">Jul</text>
<text x="229.2" y="406.5">Aug</text>
<text x="368.8" y="406.5">Sep</text>
<text x="503.5" y="406.5">Oct</text>
<text x="643" y="406.5">Nov</text>
<text x="777.5" y="406.5">Dec</text>
<text x="1056.7" y="406.5">Feb</text>
<text x="917.3" y="406.6" font-weight="bold" font-size="12.6" stroke-width="0" textLength="29.4" lengthAdjust="spacingAndGlyphs">2026</text>
</g>
<circle cx="935.4" cy="371.5" r="10.7" fill="#fff" stroke="#7c4290" stroke-width="1.5"/>
<path d="M938.9 366 L931.6 372.3 L935 372.3 L932 377 L939.4 370.7 L936 370.7 Z" fill="#9b35c4"/>
<rect x="1120.4" y="0.8" width="63.8" height="27.5" rx="4.5" fill="#fff" stroke="#f1f1f3" stroke-width="1"/>
<text x="1146.5" y="19.3" text-anchor="middle" font-size="13" fill="#1c1c1c" stroke="#1c1c1c" stroke-width=".2" textLength="30.6" lengthAdjust="spacingAndGlyphs">USDT</text>
<g fill="#1c1c1c" stroke="#1c1c1c" stroke-width=".2" font-size="12.2" text-anchor="middle">
<text x="1146.3" y="61.3" textLength="40" lengthAdjust="spacingAndGlyphs">3.5000</text>
<text x="1146.3" y="128" textLength="40" lengthAdjust="spacingAndGlyphs">3.0000</text>
<text x="1146.3" y="193.8" textLength="40" lengthAdjust="spacingAndGlyphs">2.5000</text>
</g>
<clipPath id="cp"><rect x="1100" y="33.5" width="100" height="400"/></clipPath>
<g clip-path="url(#cp)" font-size="12.2" fill="#fff" stroke="#fff" stroke-width=".4" text-anchor="middle">
<rect x="1116.3" y="27" width="55" height="18.3" rx="1.6" fill="#1b5e20"/>
<text x="1146.3" y="40.6" textLength="40" lengthAdjust="spacingAndGlyphs">3.6609</text>
<rect x="1116.3" y="97.5" width="55" height="18.8" rx="1.6" fill="#787b86"/>
<text x="1146.3" y="111.6" textLength="40" lengthAdjust="spacingAndGlyphs">3.1264</text>
<rect x="1116.3" y="141.8" width="55" height="19" rx="1.6" fill="#1b5e20"/>
<text x="1146.3" y="155.6" textLength="40" lengthAdjust="spacingAndGlyphs">2.7530</text>
<rect x="1116.3" y="160.8" width="55" height="18.5" rx="1.6" fill="#787b86"/>
<text x="1146.3" y="174.6" textLength="40" lengthAdjust="spacingAndGlyphs">2.6451</text>
<rect x="1116.3" y="208.3" width="55" height="18.9" rx="1.6" fill="#787b86"/>
<text x="1146.3" y="222.6" textLength="40" lengthAdjust="spacingAndGlyphs">2.2066</text>
<rect x="1116.3" y="261.8" width="55" height="19.4" rx="1.6" fill="#089981"/>
<text x="1146.3" y="276.6" textLength="40" lengthAdjust="spacingAndGlyphs">1.8872</text>
<rect x="1116.3" y="281.2" width="55" height="18.5" rx="1.6" fill="#801922"/>
<text x="1146.3" y="294.6" textLength="40" lengthAdjust="spacingAndGlyphs">1.8871</text>
<rect x="1116.3" y="299.7" width="55" height="18.4" rx="1.6" fill="#787b86"/>
<text x="1146.3" y="313.6" textLength="40" lengthAdjust="spacingAndGlyphs">1.8535</text>
<rect x="1116.3" y="318.1" width="55" height="18.9" rx="1.6" fill="#801922"/>
<text x="1146.3" y="332.6" textLength="40" lengthAdjust="spacingAndGlyphs">1.5172</text>
<rect x="1116.3" y="227" width="66.8" height="35" rx="2" fill="#2e7cf0"/>
<text x="1146.3" y="242" textLength="40" lengthAdjust="spacingAndGlyphs">2.1419</text>
<text x="1152" y="257" fill="#cfe2ff" stroke="#cfe2ff" textLength="52" lengthAdjust="spacingAndGlyphs">15:03:13</text>
</g>
<g fill="#131313">
<path d="M13.7 442H27V457.5H20V448.7H13.7Z"/><circle cx="32.2" cy="445.1" r="3.1"/><path d="M38 442H46.4L40 457.5H33Z"/>
<text x="55.8" y="457.7" font-size="22.3" stroke="#131313" stroke-width=".85" stroke-linejoin="round" textLength="133.2" lengthAdjust="spacingAndGlyphs">TradingView</text>
</g>
</svg></body></html>
